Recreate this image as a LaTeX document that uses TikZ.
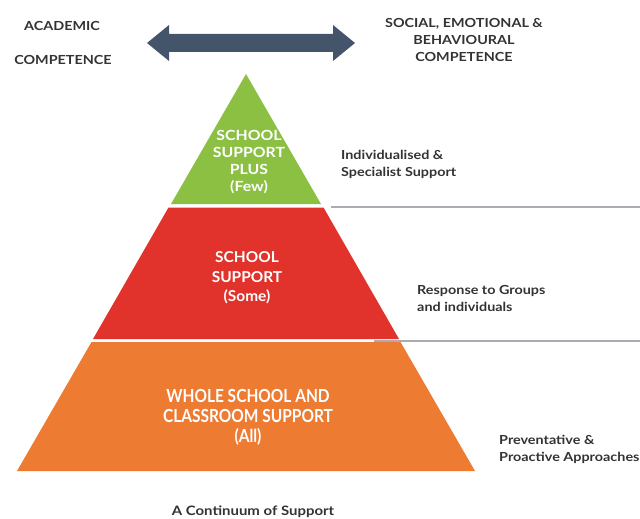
\documentclass[tikz,border=0pt]{standalone}
\usepackage{fontspec}
\setmainfont{Lato}[UprightFont=* Bold]
\newfontfamily\dkfont{Lato}[UprightFont=* Bold, FakeStretch=1.15]
\newfontfamily\grfont{Lato}[UprightFont=* Bold, FakeStretch=1.13]
\newfontfamily\rdfont{Lato}[UprightFont=* Bold, FakeStretch=1.03]
\newfontfamily\ogfont{Lato}[UprightFont=* Bold, FakeStretch=0.86]
\definecolor{pgreen}{HTML}{8BC043}
\definecolor{pred}{HTML}{E1322B}
\definecolor{porange}{HTML}{ED7B32}
\definecolor{parrow}{HTML}{44546A}
\definecolor{ptext}{HTML}{333333}
\definecolor{pline}{HTML}{ABABB3}
\begin{document}
\begin{tikzpicture}[x=1pt,y=-1pt,
  lbl/.style={text=ptext,font=\dkfont\fontsize{12.5}{17}\selectfont,inner sep=0pt},
  lblc/.style={lbl,align=center},
  lbll/.style={lbl,align=left,anchor=west},
  tier/.style={text=white,align=center,inner sep=0pt},
  sep/.style={draw=pline,line width=2pt}]
\useasboundingbox (0,0) rectangle (640,519);
% arrow
\fill[parrow] (147,43) -- (169,25) -- (169,34) -- (333,34) -- (333,25) -- (355,43) -- (333,61) -- (333,52) -- (169,52) -- (169,61) -- cycle;
% pyramid
\fill[pgreen] (246,74) -- (321,204) -- (171,204) -- cycle;
\fill[pred] (168.5,207.5) -- (323.5,207.5) -- (399,339) -- (93,339) -- cycle;
\fill[porange] (91.5,342) -- (400.5,342) -- (475,471) -- (17,471) -- cycle;
% separator lines
\coordinate (s1a) at (331,207);
\coordinate (s1b) at (640,207);
\coordinate (s2a) at (374,341);
\coordinate (s2b) at (640,341);
\draw[sep] (s1a) -- (s1b);
\draw[sep] (s2a) -- (s2b);
% texts
\node[lblc] (acad) at (62,25.5) {ACADEMIC};
\node[lblc] (comp) at (63,60) {COMPETENCE};
\node[lblc] (soc) at (464,39.5) {SOCIAL, EMOTIONAL \&\\BEHAVIOURAL\\COMPETENCE};
\node[tier,font=\grfont\fontsize{14}{16.7}\selectfont] (t1) at (249,162) {SCHOOL\\SUPPORT\\PLUS\\(Few)};
\node[tier,font=\rdfont\fontsize{15}{19.5}\selectfont] (t2) at (247,278) {SCHOOL\\SUPPORT\\(Some)};
\node[tier,font=\ogfont\fontsize{18}{20}\selectfont] (t3) at (248,417.5) {WHOLE SCHOOL AND\\CLASSROOM SUPPORT\\(All)};
\node[lbll] (d1) at (341,164.5) {Individualised \&\\Specialist Support};
\node[lbll] (d2) at (417,298) {Response to Groups\\and individuals};
\node[lbll] (d3) at (499,449) {Preventative \&\\Proactive Approaches};
\node[lblc,font=\dkfont\fontsize{13}{17}\selectfont] (cap) at (253,512) {A Continuum of Support};
\end{tikzpicture}
\end{document}
